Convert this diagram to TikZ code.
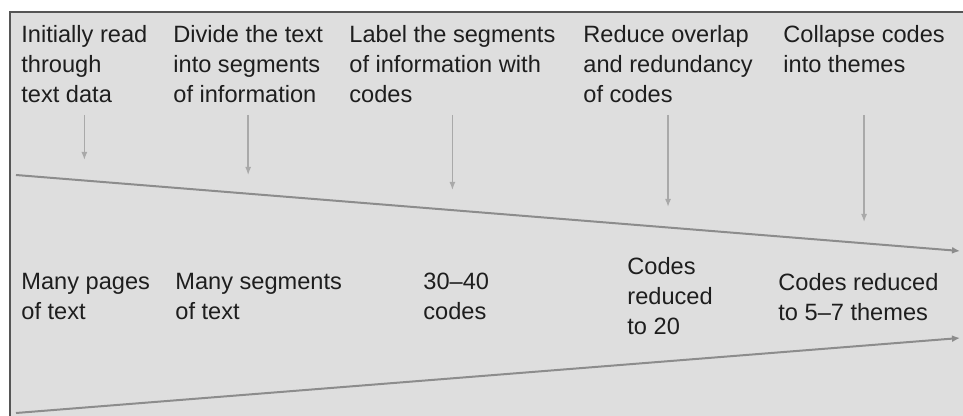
\documentclass[tikz,border=0pt]{standalone}
\usepackage{fontspec}
\setmainfont{Liberation Sans}
\usetikzlibrary{arrows.meta}

\definecolor{panel}{HTML}{DEDEDE}
\definecolor{rim}{HTML}{555555}
\definecolor{wire}{HTML}{8C8C8C}
\definecolor{ink}{HTML}{1E1E1E}

\begin{document}
\begin{tikzpicture}
[x=0.5pt,y=-0.5pt,
 action/.style={anchor=north west,inner sep=0pt,align=left,text=ink,
                font=\fontsize{11.8}{15}\selectfont},
 outcome/.style={action},
 drop/.style={draw=wire!75,line width=0.7pt,-{Latex[length=4pt,width=3pt]}},
 funnel/.style={draw=wire,line width=1pt,-{Latex[length=4pt,width=3.5pt]}}]

\useasboundingbox (0,0) rectangle (963,416);
\fill[panel] (10,12) rectangle (963,416);
\draw[rim,line width=0.8pt] (963,12) -- (10,12) -- (10,416);

% what is done to the text
\node (a1) [action] at (21,25) {Initially read\\through\\text data};
\node (a2) [action] at (173,25) {Divide the text\\into segments\\of information};
\node (a3) [action] at (349,25) {Label the segments\\of information with\\codes};
\node (a4) [action] at (583,25) {Reduce overlap\\and redundancy\\of codes};
\node (a5) [action] at (783,25) {Collapse codes\\into themes};

% the narrowing funnel
\coordinate (top start) at (16,175);
\coordinate (top end) at (960,251);
\coordinate (low start) at (16,413);
\coordinate (low end) at (960,338);
\draw [funnel] (top start) -- (top end);
\draw [funnel] (low start) -- (low end);

\foreach \n/\y in {a1/160,a2/175,a3/190,a4/207,a5/222}
	\draw [drop] (\n.center |- 0,115) -- (\n.center |- 0,\y);

% what is left after each pass
\node (o1) [outcome] at (21,273) {Many pages\\of text};
\node (o2) [outcome] at (175,273) {Many segments\\of text};
\node (o3) [outcome] at (423,273) {30–40\\codes};
\node (o4) [outcome] at (627,257) {Codes\\reduced\\to 20};
\node (o5) [outcome] at (778,273) {Codes reduced\\to 5–7 themes};

\end{tikzpicture}
\end{document}
